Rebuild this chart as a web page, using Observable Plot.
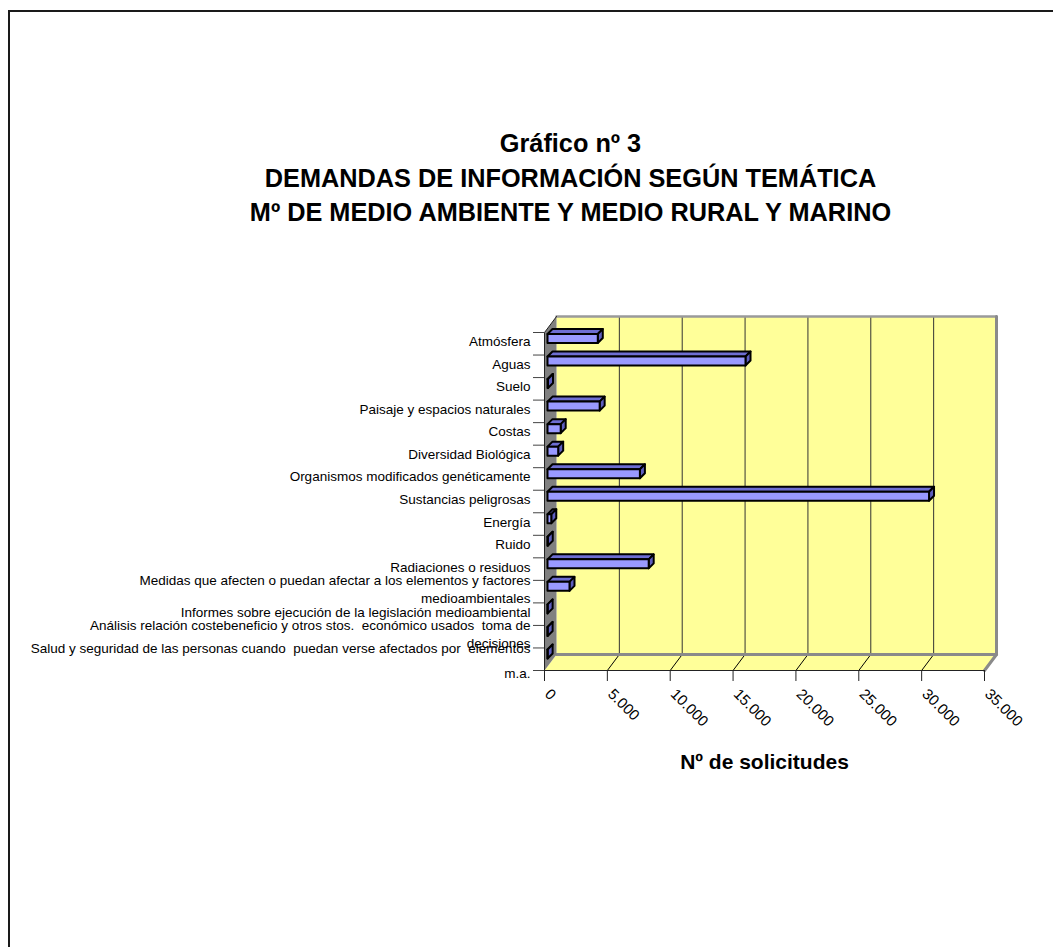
<!DOCTYPE html>
<html><head><meta charset="utf-8">
<script src="https://cdn.jsdelivr.net/npm/d3@7"></script>
<script src="https://cdn.jsdelivr.net/npm/@observablehq/plot@0.6"></script>
<style>
body{margin:0;background:#fff;font-family:"Liberation Sans",Arial,sans-serif;}
#frame{position:absolute;left:8px;top:10px;width:1200px;height:1100px;border-top:2px solid #1a1a1a;border-left:2px solid #1a1a1a;pointer-events:none;}
#title{height:240px;box-sizing:border-box;padding-top:126px;padding-left:88px;text-align:center;font-weight:bold;font-size:25.3px;line-height:34.5px;color:#000;}
#chart svg{display:block;}
</style></head><body>
<div id="frame"></div>
<div id="title">Gráfico nº 3<br>DEMANDAS DE INFORMACIÓN SEGÚN TEMÁTICA<br>Mº DE MEDIO AMBIENTE Y MEDIO RURAL Y MARINO</div>
<div id="chart"></div>
<script>
const categories = [
  "Atmósfera",
  "Aguas",
  "Suelo",
  "Paisaje y espacios naturales",
  "Costas",
  "Diversidad Biológica",
  "Organismos modificados genéticamente",
  "Sustancias peligrosas",
  "Energía",
  "Ruido",
  "Radiaciones o residuos",
  "Medidas que afecten o puedan afectar a los elementos y factores\nmedioambientales",
  "Informes sobre ejecución de la legislación medioambiental",
  "Análisis relación costebeneficio y otros stos.  económico usados  toma de\ndecisiones",
  "Salud y seguridad de las personas cuando  puedan verse afectados por  elementos\nm.a."
];
const values = [4000, 15750, 40, 4150, 1050, 850, 7350, 30350, 300, 20, 8050, 1750, 10, 10, 10];
const xTicks = [0, 5000, 10000, 15000, 20000, 25000, 30000, 35000];
const xTickLabels = ["0", "5.000", "10.000", "15.000", "20.000", "25.000", "30.000", "35.000"];
const xTitle = "Nº de solicitudes";

// layout
const W = 1053, H = 707;
const XR = [544, 984], YR = [92, 430];
const xMax = xTicks[xTicks.length - 1];
const n = categories.length;
const ux = xMax / (XR[1] - XR[0]);
const uy = n / (YR[1] - YR[0]);
const DX = 12 * ux, DY = -16 * uy; // wall depth offset

const rows = categories.map((c, i) => ({cat: c, i, v: values[i]}));

function poly(id, pts) { return pts.map(([x, y]) => ({id, x, y})); }
const faceFront = [], faceTop = [], faceSide = [];
for (const r of rows) {
  const a = 3 * ux, v = r.v + 3 * ux, d = 5 * ux;
  const t = r.i + 1.5 * uy, b = r.i + 10.5 * uy, up = -5 * uy;
  faceFront.push(...poly(r.i, [[a, t], [v, t], [v, b], [a, b]]));
  faceTop.push(...poly(r.i, [[a, t], [v, t], [v + d, t + up], [a + d, t + up]]));
  faceSide.push(...poly(r.i, [[v, t], [v + d, t + up], [v + d, b + up], [v, b]]));
}
const backWall = poly("b", [[DX, DY], [xMax + DX, DY], [xMax + DX, n + DY], [DX, n + DY]]);
const leftWall = poly("l", [[0, 0], [DX, DY], [DX, n + DY], [0, n]]);
const floorPoly = poly("f", [[0, n], [xMax, n], [xMax + DX, n + DY], [DX, n + DY]]);
const gridT = xTicks.slice(1, -1);

const closed = {x: "x", y: "y", z: "id", curve: "linear-closed"};
const labelOpts = {x: 0, y: d => d.i + 0.5, text: "cat", textAnchor: "end", dx: -14, dy: -3.5, fontSize: 13.5, fill: "#000"};

const plot = Plot.plot({
  width: W, height: H, margin: 0,
  style: {fontFamily: '"Liberation Sans", Arial, sans-serif', background: "transparent", color: "#000"},
  x: {domain: [0, xMax], range: XR, axis: null},
  y: {domain: [0, n], range: YR, axis: null},
  marks: [
    Plot.line(backWall, {...closed, fill: "#FFFF99", stroke: "none"}),
    Plot.ruleX(gridT, {x: t => t + DX, y1: DY, y2: n + DY, stroke: "#333", strokeWidth: 1}),
    Plot.line(floorPoly, {...closed, fill: "#FFFF99", stroke: "none"}),
    Plot.link(gridT, {x1: t => t, y1: n, x2: t => t + DX, y2: n + DY, stroke: "#000", strokeWidth: 1}),
    Plot.line(poly("e1", [[DX, DY], [xMax + DX, DY]]), {x: "x", y: "y", stroke: "#9a9a9a", strokeWidth: 2.5}),
    Plot.line(poly("e2", [[DX, n + DY], [xMax + DX, n + DY]]), {x: "x", y: "y", stroke: "#8a8a8a", strokeWidth: 3}),
    Plot.line(poly("e3", [[xMax + DX, DY], [xMax + DX, n + DY], [xMax, n]]), {x: "x", y: "y", stroke: "#8a8a8a", strokeWidth: 3}),
    Plot.line(leftWall, {...closed, fill: "#808080", stroke: "none"}),
    Plot.line(poly("e4", [[0, n], [0, 0], [DX, DY]]), {x: "x", y: "y", stroke: "#222", strokeWidth: 1}),
    Plot.line(poly("e5", [[0, n], [xMax, n]]), {x: "x", y: "y", stroke: "#222", strokeWidth: 1.2}),
    // bars
    Plot.line(faceTop, {...closed, fill: "#6E6ED2", stroke: "#000", strokeWidth: 2, strokeLinejoin: "round"}),
    Plot.line(faceSide, {...closed, fill: "#5E5EBE", stroke: "#000", strokeWidth: 2, strokeLinejoin: "round"}),
    Plot.line(faceFront, {...closed, fill: "#9999FF", stroke: "#000", strokeWidth: 2, strokeLinejoin: "round"}),
    // y ticks & labels
    Plot.ruleY(d3.range(n + 1), {y: d => d, x1: -11 * ux, x2: 0, stroke: "#444", strokeWidth: 1}),
    Plot.text(rows.slice(0, n - 1), {...labelOpts, lineHeight: 1.38}),
    Plot.text(rows.slice(n - 1), {...labelOpts, dy: -2, lineHeight: 1.85}),
    // x ticks & labels
    Plot.ruleX(xTicks, {x: d => d, y1: n, y2: n + 11 * uy, stroke: "#222", strokeWidth: 1}),
    Plot.text(xTicks, {x: d => d, y: n, text: (d, i) => xTickLabels[i], rotate: 45, textAnchor: "start", dx: 3, dy: 21, fontSize: 15, fill: "#000"}),
    Plot.text([xTitle], {x: xMax / 2, y: n, text: d => d, dy: 92, fontSize: 21, fontWeight: "bold", fill: "#000"})
  ]
});
document.getElementById("chart").appendChild(plot);
</script>
</body></html>
